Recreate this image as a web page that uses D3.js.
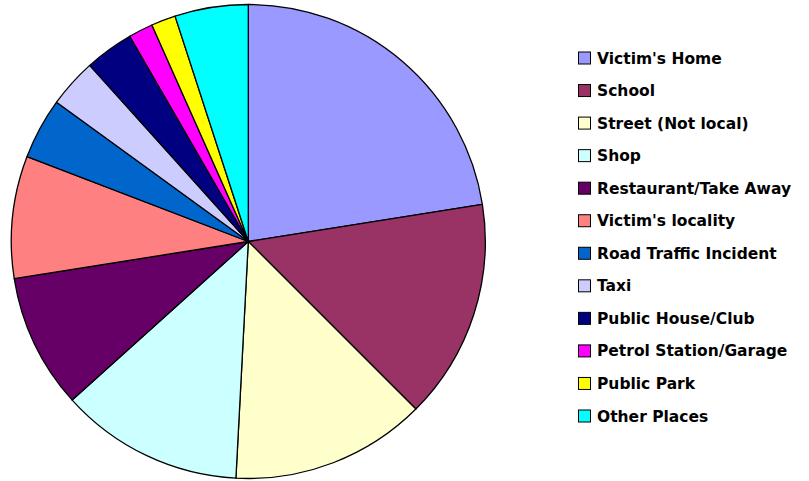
<!DOCTYPE html>
<html>
<head>
<meta charset="utf-8">
<script src="https://cdn.jsdelivr.net/npm/d3@7"></script>
<style>
    body { margin: 0; background: #fff; }
</style>
</head>
<body>
<div class="container"></div>
<script>
var categories = ["Victim's Home", "School", "Street (Not local)", "Shop", "Restaurant/Take Away",
    "Victim's locality", "Road Traffic Incident", "Taxi", "Public House/Club",
    "Petrol Station/Garage", "Public Park", "Other Places"];
var values = [27, 18, 16, 15, 11, 10, 5, 4, 4, 2, 2, 6];
var colors = ["#9999FF", "#993366", "#FFFFCC", "#CCFFFF", "#660066", "#FF8080",
    "#0066CC", "#CCCCFF", "#000080", "#FF00FF", "#FFFF00", "#00FFFF"];

!function () {
    var width = 809, height = 481;
    var cx = 248.3, cy = 241.5, radius = 237;

    var svg = d3.select('.container')
        .append('svg')
        .attr('width', width)
        .attr('height', height);

    var data = categories.map(function (c, i) {
        return { name: c, value: values[i], color: colors[i] };
    });

    var pie = d3.pie()
        .sort(null)
        .value(function (d) { return d.value; });

    var arc = d3.arc()
        .innerRadius(0)
        .outerRadius(radius);

    svg.append('g')
        .attr('transform', 'translate(' + cx + ',' + cy + ')')
        .selectAll('path')
        .data(pie(data))
        .enter()
        .append('path')
        .attr('d', arc)
        .attr('fill', function (d) { return d.data.color; })
        .attr('stroke', '#000')
        .attr('stroke-width', 1.3)
        .attr('stroke-linejoin', 'round');

    // legend
    var rowY = d3.scaleLinear()
        .domain([0, categories.length - 1])
        .range([58, 416]);

    var legend = svg.append('g')
        .selectAll('g')
        .data(data)
        .enter()
        .append('g')
        .attr('transform', function (d, i) {
            return 'translate(578,' + rowY(i) + ')';
        });

    legend.append('rect')
        .attr('x', 0.5)
        .attr('y', -6)
        .attr('width', 12)
        .attr('height', 12)
        .attr('fill', function (d) { return d.color; })
        .attr('stroke', '#000')
        .attr('stroke-width', 1);

    legend.append('text')
        .attr('x', 19)
        .attr('y', 5.5)
        .attr('font-family', '"Comic Sans MS", "DejaVu Sans", sans-serif')
        .attr('font-weight', 'bold')
        .attr('font-size', 15.5)
        .attr('fill', '#000')
        .text(function (d) { return d.name; });
}();
</script>
</body>
</html>
